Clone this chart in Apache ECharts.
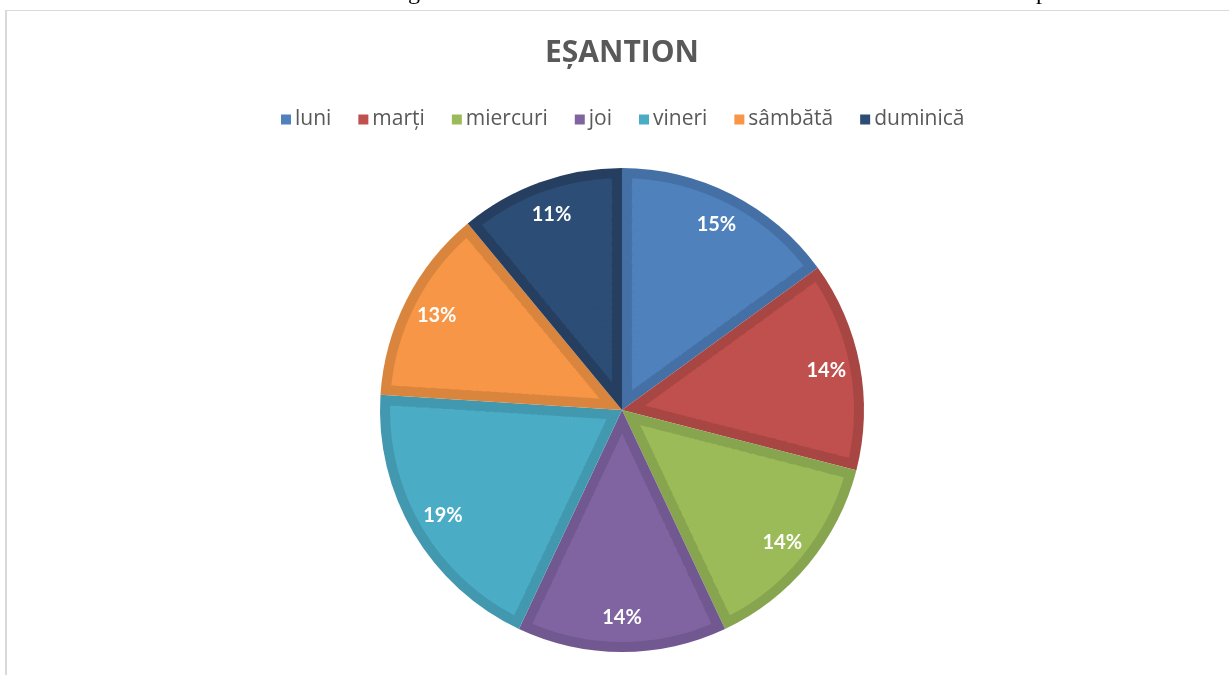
<!DOCTYPE html>
<html>
<head>
<meta charset="utf-8">
<title>EȘANTION</title>
<script src="https://cdn.jsdelivr.net/npm/echarts@6/dist/echarts.min.js"></script>
<style>
  html, body { margin: 0; padding: 0; background: #ffffff; }
  #chart { width: 1229px; height: 675px; }
</style>
</head>
<body>
<div id="chart"></div>
<script>
// Days of the week and their share of the sample (percent)
const days = ['luni', 'marți', 'miercuri', 'joi', 'vineri', 'sâmbătă', 'duminică'];
const shares = [15, 14, 14, 14, 19, 13, 11];

// Slice fill colours and the darker rim of each slice
const fillColors = ['#4F81BD', '#C0504D', '#9BBB59', '#8064A2', '#4BACC6', '#F79646', '#2C4D75'];
const edgeColors = ['#4570A6', '#A84643', '#87A44E', '#715890', '#4198AF', '#DA853E', '#263F60'];

const chart = echarts.init(document.getElementById('chart'), null, { renderer: 'canvas' });

const center = [622, 410];
const outerR = 242;
const bandW = 10;                       // width of the darker rim of every slice, px
const innerR = outerR - bandW;

// The lighter face of each slice is inset by bandW on all sides. It is built from thin
// concentric rings; in every ring each slice is flanked by transparent spacers whose
// angle gives a constant-width dark band along the slice's straight edges.
function ringData(rMid) {
  const half = Math.asin(Math.min(1, bandW / rMid)) / (2 * Math.PI) * 100; // percent of the whole
  const out = [];
  days.forEach((d, i) => {
    const side = Math.min(half, shares[i] / 2);
    out.push({ name: d + ' ·a', value: side, itemStyle: { color: 'rgba(0,0,0,0)' } });
    out.push({ name: d, value: shares[i] - 2 * side, itemStyle: { color: fillColors[i] } });
    out.push({ name: d + ' ·b', value: side, itemStyle: { color: 'rgba(0,0,0,0)' } });
  });
  return out;
}

const faceRings = [];
for (let r = 12; r < innerR; r *= 1.07) {
  const rOut = Math.min(r * 1.07, innerR);
  faceRings.push({
    type: 'pie',
    name: 'face',
    z: 3,
    center: center,
    radius: [r, rOut === innerR ? innerR : rOut + 0.8],
    startAngle: 90,
    clockwise: true,
    silent: true,
    itemStyle: { borderWidth: 0 },
    label: { show: false },
    labelLine: { show: false },
    data: ringData(Math.sqrt(r * rOut))
  });
}

const edgeData = days.map((d, i) => ({ name: d, value: shares[i], itemStyle: { color: edgeColors[i] } }));
const labelData = days.map((d, i) => ({ name: d, value: shares[i] }));

chart.setOption({
  backgroundColor: '#ffffff',
  animation: false,
  title: {
    text: 'EȘANTION',
    left: 540,
    top: 33,
    textStyle: { fontFamily: 'Open Sans', fontWeight: 'bold', fontSize: 30, color: '#595959' }
  },
  legend: {
    top: 104,
    left: 276,
    icon: 'rect',
    itemWidth: 10,
    itemHeight: 10,
    itemGap: 27,
    textStyle: { fontFamily: 'Open Sans', fontSize: 21, color: '#595959', padding: [0, 0, 0, -1] },
    data: days.map((d, i) => ({ name: d, itemStyle: { color: fillColors[i] } }))
  },
  series: [
    {
      // full-size slices giving the darker rim
      type: 'pie',
      name: 'edge',
      z: 2,
      center: center,
      radius: [0, outerR],
      startAngle: 90,
      clockwise: true,
      silent: true,
      itemStyle: { borderWidth: 0 },
      label: { show: false },
      labelLine: { show: false },
      data: edgeData
    },
    ...faceRings,
    {
      // percentage labels placed near the rim
      type: 'pie',
      name: 'labels',
      z: 4,
      center: center,
      radius: [168, outerR],
      startAngle: 90,
      clockwise: true,
      silent: true,
      itemStyle: { color: 'rgba(0,0,0,0)', borderWidth: 0 },
      label: {
        show: true,
        position: 'inside',
        formatter: p => Math.round(p.percent) + '%',
        fontFamily: 'Lato',
        fontWeight: 'bold',
        fontSize: 20,
        color: '#ffffff'
      },
      labelLine: { show: false },
      data: labelData
    }
  ],
  graphic: [
    // frame of the chart area
    { type: 'line', shape: { x1: 5, y1: 10.5, x2: 1229, y2: 10.5 }, style: { stroke: '#d9d9d9', lineWidth: 1 }, silent: true },
    { type: 'line', shape: { x1: 6, y1: 10, x2: 6, y2: 675 }, style: { stroke: '#d9d9d9', lineWidth: 2 }, silent: true },
    // descenders of the text line above the chart
    { type: 'text', x: 408, y: -19, style: { text: 'g', font: '24px "Liberation Serif"', fill: '#000000', textVerticalAlign: 'top' }, silent: true },
    { type: 'text', x: 1036, y: -19, style: { text: 'p', font: '24px "Liberation Serif"', fill: '#000000', textVerticalAlign: 'top' }, silent: true }
  ]
});
</script>
</body>
</html>
